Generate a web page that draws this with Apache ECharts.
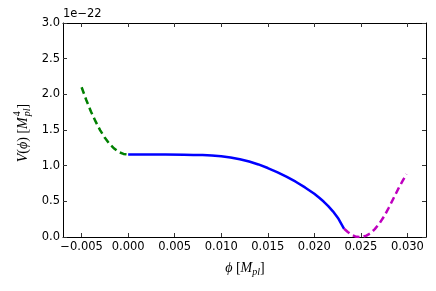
<!DOCTYPE html>
<html>
<head>
<meta charset="utf-8">
<script src="https://cdn.jsdelivr.net/npm/echarts@6/dist/echarts.min.js"></script>
<style>
html,body{margin:0;padding:0;background:#fff;}
#c{width:436px;height:291px;}
</style>
</head>
<body>
<div id="c"></div>
<script>
// values of V in units of 1e-22 M_pl^4
var greenX = [-0.005,-0.0045,-0.004,-0.0035,-0.003,-0.0025,-0.002,-0.0015,-0.001,-0.0005,0];
var greenY = [2.10,1.92,1.76,1.62,1.495,1.39,1.305,1.24,1.19,1.165,1.155];

var blueX = [0,0.002,0.004,0.006,0.007,0.008,0.009,0.010,0.011,0.012,0.013,0.014,0.015,0.016,0.017,0.018,0.019,0.020,0.0205,0.021,0.0215,0.022,0.0226,0.0232];
var blueY = [1.155,1.155,1.155,1.153,1.151,1.148,1.142,1.132,1.115,1.09,1.058,1.017,0.967,0.91,0.845,0.775,0.695,0.605,0.553,0.497,0.433,0.36,0.255,0.115];

var magX = [0.0232,0.0236,0.024,0.0244,0.0248,0.0252,0.0256,0.026,0.0265,0.027,0.0275,0.028,0.0285,0.029,0.0295,0.0299];
var magY = [0.115,0.07,0.03,0.008,0,0.003,0.02,0.05,0.11,0.19,0.29,0.41,0.54,0.67,0.79,0.88];

var xTicks = [-0.005,0,0.005,0.010,0.015,0.020,0.025,0.030];
var yTicks = [0,0.5,1.0,1.5,2.0,2.5,3.0];
var offsetText = '1e\u221222';

function pairs(xs, ys){ return xs.map(function(x,i){ return [x, ys[i]]; }); }
function fmtX(v){ return v.toFixed(3).replace('-', '\u2212'); }
function fmtY(v){ return v.toFixed(1); }

var chart = echarts.init(document.getElementById('c'), null, {renderer:'canvas'});
var tickFont = {fontFamily:'DejaVu Sans', fontSize:11.5, color:'#000'};
var lineAx = {show:true, onZero:false, lineStyle:{color:'#000', width:1}};
var tickSt = {show:true, inside:true, length:4, lineStyle:{color:'#333', width:1}};

var mathRich = {
  i:{fontFamily:'Liberation Serif', fontStyle:'italic', fontSize:14, color:'#000', verticalAlign:'middle', align:'left'},
  r:{fontFamily:'Liberation Serif', fontSize:14, color:'#000', verticalAlign:'middle', align:'left'},
  s:{fontFamily:'Liberation Serif', fontStyle:'italic', fontSize:10, color:'#000', verticalAlign:'middle', align:'left', padding:[8,0,0,0]},
  p:{fontFamily:'Liberation Serif', fontSize:10, color:'#000', verticalAlign:'middle', align:'left', padding:[0,0,11,1], width:0.01}
};

chart.setOption({
  animation:false,
  backgroundColor:'#fff',
  grid:{left:63, right:10, top:23, bottom:54, containLabel:false},
  xAxis:[{
    type:'value', min:-0.007, max:0.032, position:'bottom',
    axisLine:lineAx, splitLine:{show:false},
    axisTick:Object.assign({customValues:xTicks}, tickSt),
    axisLabel:Object.assign({customValues:xTicks, margin:4, formatter:fmtX}, tickFont)
  },{
    type:'value', min:-0.007, max:0.032, position:'top',
    axisLine:lineAx, splitLine:{show:false},
    axisTick:Object.assign({customValues:xTicks}, tickSt),
    axisLabel:{show:false}
  }],
  yAxis:[{
    type:'value', min:0, max:3, interval:0.5, position:'left',
    axisLine:lineAx, splitLine:{show:false},
    axisTick:tickSt,
    axisLabel:Object.assign({margin:3, formatter:fmtY}, tickFont)
  },{
    type:'value', min:0, max:3, interval:0.5, position:'right',
    axisLine:lineAx, splitLine:{show:false},
    axisTick:tickSt,
    axisLabel:{show:false}
  }],
  series:[
    {type:'line', data:pairs(greenX, greenY), showSymbol:false, smooth:false,
     lineStyle:{color:'#008000', width:2.5, type:[7,4]}},
    {type:'line', data:pairs(blueX, blueY), showSymbol:false, smooth:false,
     lineStyle:{color:'#0000ff', width:2.5}},
    {type:'line', data:pairs(magX, magY), showSymbol:false, smooth:false,
     lineStyle:{color:'#bf00bf', width:2.5, type:[7,4]}}
  ],
  graphic:[
    {type:'text', left:63, top:8, style:{text:offsetText, fontFamily:'DejaVu Sans', fontSize:11.5, fill:'#000'}},
    {type:'text', x:245, y:268, style:{
      text:'{i|\u03d5} {r|[}{i|M}{s|pl}{r|]}', rich:mathRich, align:'center', verticalAlign:'middle'}},
    {type:'text', x:23, y:133, rotation:Math.PI/2, style:{
      text:'{i|V}{r|(}{i|\u03d5}{r|) [}{i|M}{p|4}{s|pl}{r|]}', rich:mathRich, align:'center', verticalAlign:'middle'}}
  ]
});
</script>
</body>
</html>
